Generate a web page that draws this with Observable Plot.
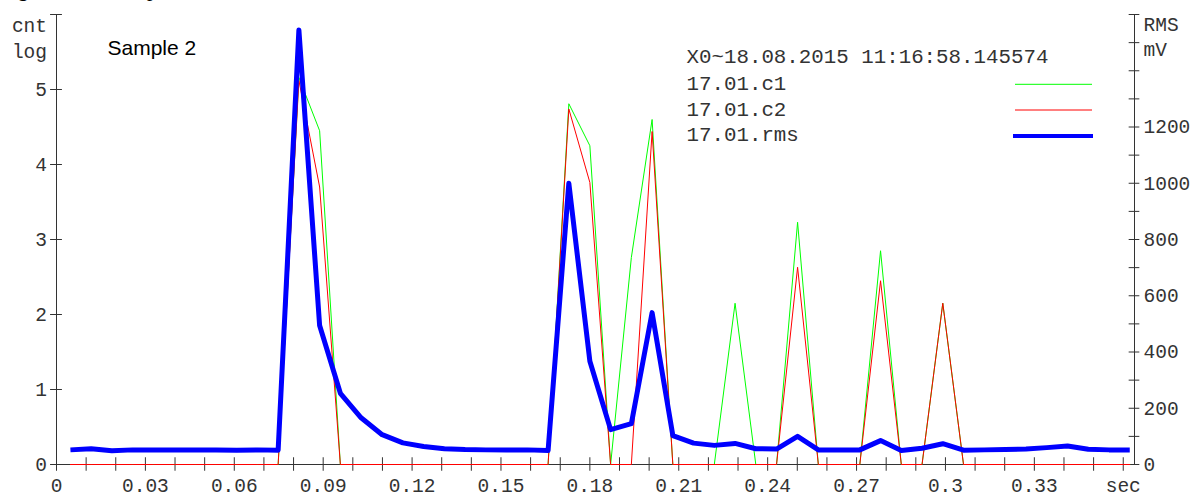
<!DOCTYPE html>
<html>
<head>
<meta charset="utf-8">
<script src="https://cdn.jsdelivr.net/npm/d3@7"></script>
<script src="https://cdn.jsdelivr.net/npm/@observablehq/plot@0.6"></script>
<style>
  html, body { margin: 0; padding: 0; background: #fff; overflow: hidden; }
  #chart svg { display: block; }
</style>
</head>
<body>
<div id="chart"></div>
<script>
// ---- data ----
const times = [
  0.0047, 0.0117, 0.0187, 0.0257, 0.0327, 0.0398, 0.0468, 0.0538, 0.0608, 0.0678,
  0.0748, 0.0818, 0.0888, 0.0958, 0.1028, 0.1099, 0.1169, 0.1239, 0.1309, 0.1379,
  0.1449, 0.1519, 0.1589, 0.1659, 0.1729, 0.1800, 0.1870, 0.1940, 0.2010, 0.2080,
  0.2150, 0.2220, 0.2290, 0.2360, 0.2430, 0.2501, 0.2571, 0.2641, 0.2711, 0.2781,
  0.2851, 0.2921, 0.2991, 0.3061, 0.3131, 0.3202, 0.3272, 0.3342, 0.3412, 0.3482,
  0.3552, 0.3622
];
// 17.01.c1 (cnt, log)
const c1 = [
  0, 0, 0, 0, 0, 0, 0, 0, 0, 0,
  0, 5.16, 4.45, 0, 0, 0, 0, 0, 0, 0,
  0, 0, 0, 0, 4.81, 4.25, 0, 2.76, 4.60, 0,
  0, 0, 2.15, 0, 0, 3.23, 0, 0, 0, 2.85,
  0, 0, 2.15, 0, 0, 0, 0, 0, 0, 0,
  0, 0
];
// 17.01.c2 (cnt, log)
const c2 = [
  0, 0, 0, 0, 0, 0, 0, 0, 0, 0,
  0, 5.12, 3.70, 0, 0, 0, 0, 0, 0, 0,
  0, 0, 0, 0, 4.74, 3.76, 0, 0, 4.44, 0,
  0, 0, 0, 0, 0, 2.63, 0, 0, 0, 2.45,
  0, 0, 2.15, 0, 0, 0, 0, 0, 0, 0,
  0, 0
];
// 17.01.rms (mV)
const rms = [
  52, 56, 49, 52, 52, 52, 52, 52, 51, 52,
  51, 1545, 494, 253, 166, 106, 77, 64, 56, 53,
  52, 52, 52, 50, 1000, 367, 124, 145, 540, 103,
  76, 68, 75, 56, 55, 100, 52, 52, 52, 85,
  50, 58, 74, 51, 52, 53, 55, 60, 66, 54,
  52, 52
];

const seriesNames = ["17.01.c1", "17.01.c2", "17.01.rms"];
const seriesColors = ["#00ff00", "#ff0000", "#0000ff"];

const xTickValues = [
  0, 0.01, 0.02, 0.03, 0.04, 0.05, 0.06, 0.07, 0.08, 0.09, 0.10, 0.11, 0.12,
  0.13, 0.14, 0.15, 0.16, 0.17, 0.18, 0.19, 0.20, 0.21, 0.22, 0.23, 0.24, 0.25,
  0.26, 0.27, 0.28, 0.29, 0.30, 0.31, 0.32, 0.33, 0.34, 0.35, 0.36
];
const xLabelValues = [0, 0.03, 0.06, 0.09, 0.12, 0.15, 0.18, 0.21, 0.24, 0.27, 0.30, 0.33, 0.36];
const xLabelTexts = ["0", "0.03", "0.06", "0.09", "0.12", "0.15", "0.18", "0.21", "0.24", "0.27", "0.3", "0.33", "sec"];
const leftTickValues = [0, 1, 2, 3, 4, 5, 6];
const leftLabelValues = [0, 1, 2, 3, 4, 5];
const rightTickValues = [0, 100, 200, 300, 400, 500, 600, 700, 800, 900, 1000, 1100, 1200, 1300, 1400, 1500, 1600];
const rightLabelValues = [0, 200, 400, 600, 800, 1000, 1200];
const leftUnit = ["cnt", "log"];
const rightUnit = ["RMS", "mV"];
const startLabel = "X0~18.08.2015 11:16:58.145574";
const sampleLabel = "Sample 2";
const figureTitle = "Fig. 14. The sample 12, ";

// ---- layout / scales ----
const X_MAX = 0.3638;
const CNT_MAX = 6;
const RMS_MAX = 1600;
const toY = v => v * CNT_MAX / RMS_MAX;   // rms (mV) onto the left (cnt) scale

const rows = times.map((t, i) => ({t, c1: c1[i], c2: c2[i], rms: rms[i]}));

const axisColor = "#333";
const textColor = "#333";
const mono = "Liberation Mono, Courier New, monospace";
const tickFont = 19.5;
const legendFont = 20.8;

const labelText = (value, opts) => Plot.text([value], {
  frameAnchor: "top-left", text: d => d, lineAnchor: "bottom", textAnchor: "start",
  fontFamily: mono, fill: textColor, ...opts
});

const chart = Plot.plot({
  width: 1200,
  height: 496,
  marginLeft: 56,
  marginRight: 66,
  marginTop: 14,
  marginBottom: 32,
  x: {domain: [0, X_MAX], axis: null},
  y: {domain: [0, CNT_MAX], axis: null},
  style: {fontFamily: mono, background: "white", overflow: "visible"},
  marks: [
    // axis lines
    Plot.ruleY([0], {stroke: axisColor, strokeWidth: 1}),
    Plot.ruleX([0], {stroke: axisColor, strokeWidth: 1}),
    Plot.ruleX([X_MAX], {stroke: axisColor, strokeWidth: 1}),
    // ticks crossing the axes
    Plot.ruleX(xTickValues, {x: d => d, y1: -0.09, y2: 0.09, stroke: axisColor}),
    Plot.ruleY(leftTickValues, {y: d => d, x1: -0.002, x2: 0.002, stroke: axisColor}),
    Plot.ruleY(rightTickValues, {y: d => toY(d), x1: X_MAX - 0.0018, x2: X_MAX + 0.0018, stroke: axisColor}),
    // series
    Plot.line(rows, {x: "t", y: "c1", stroke: seriesColors[0], strokeWidth: 1, strokeLinejoin: "miter", strokeMiterlimit: 10}),
    Plot.line(rows, {x: "t", y: "c2", stroke: seriesColors[1], strokeWidth: 1, strokeLinejoin: "miter", strokeMiterlimit: 10}),
    Plot.line(rows, {x: "t", y: d => toY(d.rms), stroke: seriesColors[2], strokeWidth: 5, strokeLinejoin: "round", strokeLinecap: "butt"}),
    // tick labels
    Plot.text(xLabelValues, {x: d => d, y: () => 0, dy: 21, text: (d, i) => xLabelTexts[i],
      lineAnchor: "middle", textAnchor: "middle", fontSize: tickFont, fontFamily: mono, fill: textColor}),
    Plot.text(leftLabelValues, {x: () => 0, y: d => d, dx: -9.5, text: d => String(d),
      lineAnchor: "middle", textAnchor: "end", fontSize: tickFont, fontFamily: mono, fill: textColor}),
    Plot.text(rightLabelValues, {x: () => X_MAX, y: d => toY(d), dx: 9, text: d => String(d),
      lineAnchor: "middle", textAnchor: "start", fontSize: tickFont, fontFamily: mono, fill: textColor}),
    // unit labels
    labelText(leftUnit[0], {dx: -9.5, dy: 17, textAnchor: "end", fontSize: tickFont}),
    labelText(leftUnit[1], {dx: -9.5, dy: 43, textAnchor: "end", fontSize: tickFont}),
    labelText(rightUnit[0], {frameAnchor: "top-right", dx: 9, dy: 16.7, fontSize: tickFont}),
    labelText(rightUnit[1], {frameAnchor: "top-right", dx: 9, dy: 41, fontSize: tickFont}),
    // in-plot annotations
    labelText(sampleLabel, {dx: 51, dy: 40.3, fontSize: 21, fontFamily: "Liberation Sans, Arial, sans-serif", fill: "#000"}),
    labelText(startLabel, {dx: 630, dy: 48.3, fontSize: legendFont}),
    labelText(seriesNames[0], {dx: 630, dy: 75.3, fontSize: legendFont}),
    labelText(seriesNames[1], {dx: 630, dy: 101, fontSize: legendFont}),
    labelText(seriesNames[2], {dx: 630, dy: 126.7, fontSize: legendFont})
  ]
});

document.getElementById("chart").appendChild(chart);

// legend swatches and the clipped figure caption at the very top
const svg = d3.select(chart);
const swatchRows = [
  {color: seriesColors[0], y: 84.3, w: 1, x1: 1015, x2: 1092},
  {color: seriesColors[1], y: 110, w: 1, x1: 1015, x2: 1092},
  {color: seriesColors[2], y: 136, w: 4, x1: 1013, x2: 1093}
];
svg.append("g").selectAll("line").data(swatchRows).join("line")
  .attr("x1", d => d.x1).attr("x2", d => d.x2)
  .attr("y1", d => d.y).attr("y2", d => d.y)
  .attr("stroke", d => d.color).attr("stroke-width", d => d.w);

svg.append("text")
  .attr("x", 0).attr("y", -4.5)
  .attr("text-anchor", "start")
  .attr("font-family", "Liberation Serif, Times New Roman, serif")
  .attr("font-style", "italic")
  .attr("font-size", 22)
  .attr("fill", "#000")
  .text(figureTitle);
</script>
</body>
</html>
